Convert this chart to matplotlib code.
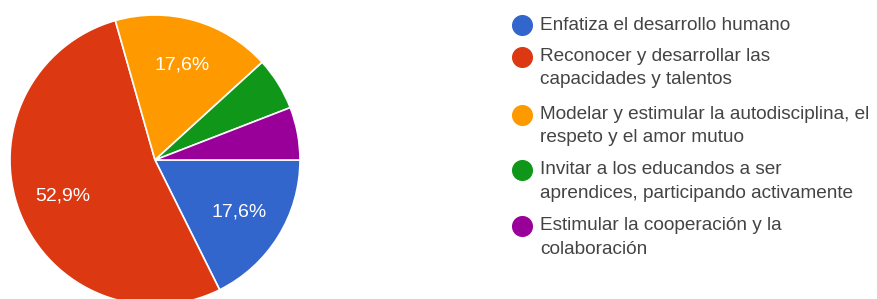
import matplotlib
matplotlib.use("Agg")
import matplotlib.pyplot as plt

##data (responses per option, 17 in total)
labels = ["Enfatiza el desarrollo humano",
          "Reconocer y desarrollar las\ncapacidades y talentos",
          "Modelar y estimular la autodisciplina, el\nrespeto y el amor mutuo",
          "Invitar a los educandos a ser\naprendices, participando activamente",
          "Estimular la cooperación y la\ncolaboración"]
values = [3, 9, 3, 1, 1]
colors = ["#3366CC", "#DC3912", "#FF9900", "#109618", "#990099"]

plt.rcParams['font.family'] = ['Liberation Sans', 'DejaVu Sans']

fig = plt.figure(figsize=(8.78, 2.99), dpi=100)
ax = fig.add_axes([0, 0, 1, 1])

def pct_label(p):
    if p < 10:
        return ''
    return f"{p:.1f}%".replace('.', ',')

wedges, texts, autotexts = ax.pie(values, colors=colors, startangle=0, counterclock=False,
                                  center=(155, 139), radius=145, autopct=pct_label,
                                  pctdistance=0.68, frame=True,
                                  wedgeprops=dict(edgecolor='white', linewidth=1.2),
                                  textprops=dict(color='white', fontsize=14))
ax.set_xlim(0, 878)
ax.set_ylim(0, 299)
ax.set_aspect('equal')
ax.axis('off')

##legend by hand
marker_y = [274, 242, 184, 129, 73]
line_gap = 23
for i in range(len(labels)):
    ax.scatter(522, marker_y[i], s=200, color=colors[i], zorder=3)
    for j, line in enumerate(labels[i].split('\n')):
        ax.text(540, marker_y[i] - j * line_gap, line, va='center', ha='left',
                fontsize=13.7, color='#444444')

fig.savefig("out.png", dpi=100)
